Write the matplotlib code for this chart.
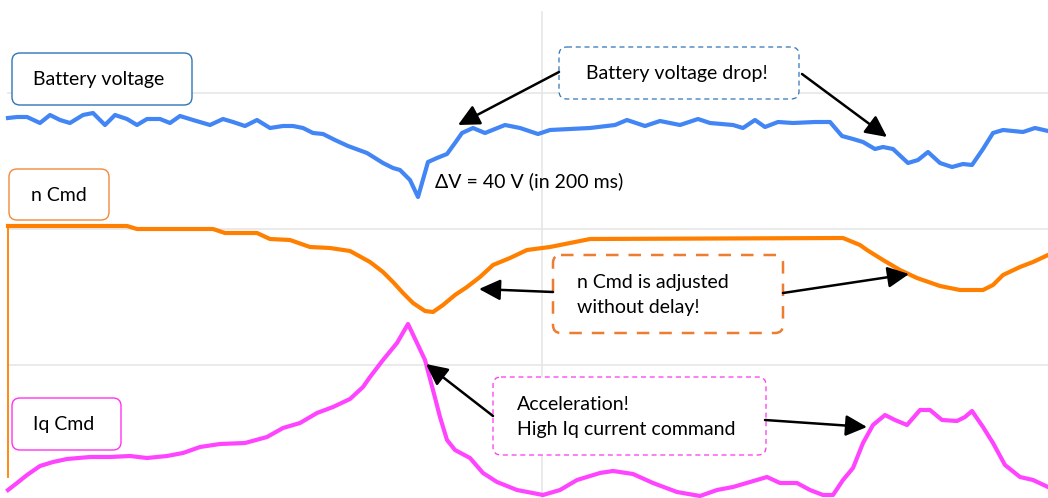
import matplotlib
matplotlib.use("Agg")
import matplotlib.pyplot as plt
from matplotlib.patches import FancyBboxPatch

# ---------------- data (time in px-units, level in screen units, top = 0) ----------------
batt_t = [8, 17, 27, 40, 50, 60, 70, 83, 93, 105, 115, 127, 137, 147, 160, 170, 180, 193,
          210, 223, 233, 245, 257, 270, 283, 293, 303, 313, 323, 335, 348, 367, 383, 393,
          400, 410, 418, 428, 437, 447, 455, 462, 473, 485, 505, 520, 538, 550, 590, 615,
          627, 645, 660, 680, 698, 710, 733, 743, 755, 765, 778, 793, 815, 830, 842, 853,
          863, 875, 883, 893, 908, 918, 928, 940, 952, 963, 972, 983, 993, 1003, 1023,
          1035, 1048]
batt_v = [118, 117, 117, 123, 115, 120, 123, 115, 113, 125, 115, 119, 125, 119, 119, 123,
          116, 120, 125, 119, 122, 126, 120, 128, 126, 126, 128, 133, 134, 140, 146, 153,
          163, 168, 170, 180, 197, 162, 158, 154, 143, 133, 128, 133, 125, 128, 134, 130,
          128, 125, 120, 126, 121, 125, 119, 123, 125, 128, 120, 127, 122, 123, 122, 122,
          136, 139, 142, 149, 147, 149, 163, 160, 152, 163, 167, 164, 165, 149, 133, 130,
          132, 128, 131]

ncmd_t = [8, 127, 137, 213, 225, 257, 270, 290, 310, 330, 350, 370, 383, 393, 403, 413,
          425, 433, 443, 455, 467, 480, 493, 510, 527, 550, 570, 590, 843, 860, 867, 883,
          900, 917, 940, 960, 983, 993, 1003, 1020, 1033, 1048]
ncmd_v = [226, 226, 229, 229, 233, 233, 239, 240, 247, 248, 251, 262, 272, 282, 293, 303,
          311, 312, 305, 295, 287, 277, 265, 258, 250, 247, 243, 239, 238, 245, 250, 260,
          270, 278, 286, 290, 290, 285, 275, 267, 262, 255]

iq_t = [8, 17, 27, 40, 53, 67, 90, 110, 130, 147, 167, 183, 200, 220, 245, 267, 283, 300,
        317, 333, 350, 363, 370, 383, 397, 408, 417, 425, 433, 440, 447, 455, 470, 483,
        497, 517, 543, 560, 577, 600, 613, 633, 653, 677, 700, 717, 733, 750, 767, 780,
        797, 810, 823, 833, 843, 853, 863, 873, 885, 895, 907, 920, 930, 942, 957, 965,
        972, 983, 993, 1005, 1020, 1033, 1048]
iq_v = [490, 483, 475, 466, 462, 459, 457, 457, 456, 458, 456, 453, 447, 444, 443, 437,
        428, 423, 413, 407, 399, 387, 377, 360, 343, 324, 343, 360, 390, 417, 440, 450,
        458, 473, 482, 490, 495, 490, 480, 473, 471, 474, 483, 492, 496, 490, 487, 482,
        477, 483, 483, 490, 495, 495, 480, 468, 443, 425, 415, 420, 425, 410, 410, 420,
        421, 417, 411, 427, 443, 465, 477, 480, 487]

labels = ["Battery voltage", "n Cmd", "Iq Cmd"]
note_drop = "Battery voltage drop!"
note_dv = "\u0394V = 40 V (in 200 ms)"
note_ncmd = "n Cmd is adjusted\nwithout delay!"
note_iq = "Acceleration!\nHigh Iq current command"

# ---------------- style ----------------
BLUE = "#4285F4"
ORANGE = "#FF8000"
MAGENTA = "#FF44FF"
plt.rcParams['font.family'] = ['Lato', 'DejaVu Sans']
FS = 14

fig = plt.figure(figsize=(10.48, 4.98), dpi=100)
ax = fig.add_axes([0, 0, 1, 1])
ax.set_xlim(0, 1048)
ax.set_ylim(498, 0)
ax.axis('off')

# grid
for gy in (93, 229, 365):
    ax.plot([8, 1048], [gy, gy], color="#E6E6E6", lw=1.2, zorder=0)
ax.plot([542, 542], [12, 498], color="#E6E6E6", lw=1.2, zorder=0)

# traces
ax.plot([8, 8], [477, 226], color=ORANGE, lw=1.3, zorder=2)
ax.plot(batt_t, batt_v, color=BLUE, lw=3.0, zorder=3)
ax.plot(ncmd_t, ncmd_v, color=ORANGE, lw=3.0, zorder=3)
ax.plot(iq_t, iq_v, color=MAGENTA, lw=3.0, zorder=3)


def box(x0, y0, x1, y1, ec, lw=1.0, ls='-', pad=8):
    p = FancyBboxPatch((x0 + pad, y0 + pad), (x1 - x0) - 2 * pad, (y1 - y0) - 2 * pad,
                       boxstyle=f"round,pad={pad},rounding_size={pad}",
                       fc="white", ec=ec, lw=lw, ls=ls, zorder=5)
    ax.add_patch(p)


# label boxes
box(12, 53, 192, 105, "#2E75B6", lw=1.0)
ax.text(99, 79, labels[0], ha='center', va='center', fontsize=FS, zorder=6)
box(9, 169, 109, 220, "#F08A3C", lw=1.0)
ax.text(59, 195, labels[1], ha='center', va='center', fontsize=FS, zorder=6)
box(12, 398, 121, 450, "#FF33EE", lw=1.0)
ax.text(64, 424, labels[2], ha='center', va='center', fontsize=FS, zorder=6)

# note boxes
box(559, 47, 799, 99, "#2E75B6", lw=0.9, ls=(0, (4, 3)))
ax.text(677, 73, note_drop, ha='center', va='center', fontsize=FS, zorder=6)
box(553, 255, 783, 333, "#ED7D31", lw=1.8, ls=(0, (5, 4)))
ax.text(577, 295, note_ncmd, ha='left', va='center', fontsize=FS, zorder=6, linespacing=1.6)
box(493, 377, 766, 455, "#FF33EE", lw=0.9, ls=(0, (4, 3)))
ax.text(517, 417, note_iq, ha='left', va='center', fontsize=FS, zorder=6, linespacing=1.6)

ax.text(435, 181, note_dv, ha='left', va='center', fontsize=FS, zorder=6)

# arrows
arrows = [((559, 72), (458, 125)), ((802, 74), (887, 137)),
          ((553, 292), (479, 289)), ((783, 293), (909, 274)),
          ((493, 416), (426, 364)), ((765, 420), (867, 427))]
for (sx, sy), (ex, ey) in arrows:
    ax.annotate("", xy=(ex, ey), xytext=(sx, sy),
                arrowprops=dict(arrowstyle='-|>,head_length=0.65,head_width=0.32', lw=1.8,
                                color='black', shrinkA=0, shrinkB=0, mutation_scale=20),
                zorder=7)

fig.savefig("out.png", dpi=100)
